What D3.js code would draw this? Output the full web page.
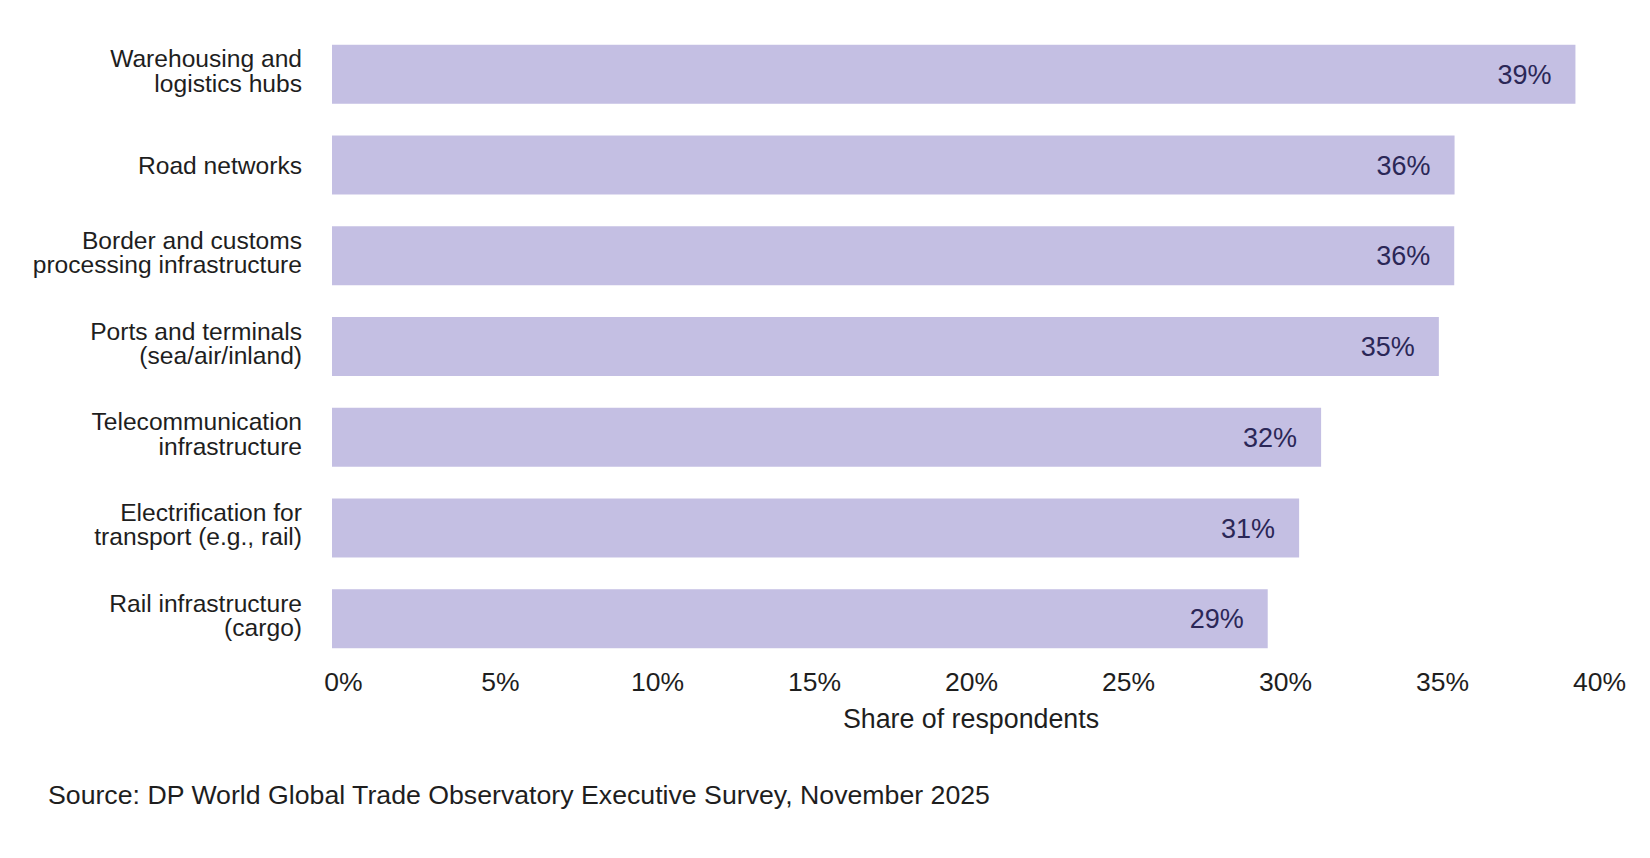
<!DOCTYPE html>
<html>
<head>
<meta charset="utf-8">
<script src="https://cdn.jsdelivr.net/npm/d3@7"></script>
<style>
  html, body { margin: 0; padding: 0; background: #ffffff; }
  svg { display: block; }
  text { font-family: "Liberation Sans", Arial, sans-serif; }
</style>
</head>
<body>
<svg id="chart" width="1650" height="858"></svg>
<script>
// ---- data ----
const categories = [
  ["Warehousing and", "logistics hubs"],
  ["Road networks"],
  ["Border and customs", "processing infrastructure"],
  ["Ports and terminals", "(sea/air/inland)"],
  ["Telecommunication", "infrastructure"],
  ["Electrification for", "transport (e.g., rail)"],
  ["Rail infrastructure", "(cargo)"]
];
const values = [39.6, 35.75, 35.74, 35.25, 31.5, 30.8, 29.8];
const valueLabels = ["39%", "36%", "36%", "35%", "32%", "31%", "29%"];
const tickValues = [0, 5, 10, 15, 20, 25, 30, 35, 40];
const axisTitle = "Share of respondents";
const sourceText = "Source: DP World Global Trade Observatory Executive Survey, November 2025";

// ---- layout ----
const svg = d3.select("#chart");
const x = d3.scaleLinear().domain([0, 40]).range([332, 1588]);
const y = d3.scaleBand().domain(d3.range(categories.length)).range([13, 680]).padding(0.35);

const barColor = "#c4bfe3";
const valueColor = "#2b2757";
const textColor = "#1e1e1e";

// bars
svg.append("g").selectAll("rect")
  .data(values)
  .join("rect")
  .attr("x", x(0))
  .attr("y", (d, i) => y(i))
  .attr("width", d => x(d) - x(0))
  .attr("height", y.bandwidth())
  .attr("fill", barColor);

// value labels
svg.append("g").selectAll("text")
  .data(values)
  .join("text")
  .attr("x", d => x(d) - 24)
  .attr("y", (d, i) => y(i) + y.bandwidth() / 2)
  .attr("dy", "0.36em")
  .attr("text-anchor", "end")
  .attr("font-size", 27)
  .attr("fill", valueColor)
  .text((d, i) => valueLabels[i]);

// category labels
const catG = svg.append("g");
categories.forEach((lines, i) => {
  const cy = y(i) + y.bandwidth() / 2;
  const t = catG.append("text")
    .attr("text-anchor", "end")
    .attr("font-size", 24.6)
    .attr("fill", textColor);
  if (lines.length === 1) {
    t.append("tspan").attr("x", 302).attr("y", cy + 8.5).text(lines[0]);
  } else {
    t.append("tspan").attr("x", 302).attr("y", cy - 7).text(lines[0]);
    t.append("tspan").attr("x", 302).attr("y", cy + 17.5).text(lines[1]);
  }
});

// x axis
const xAxis = d3.axisBottom(x)
  .tickValues(tickValues)
  .tickFormat(d => d + "%")
  .tickSize(0)
  .tickPadding(0);
const axG = svg.append("g")
  .attr("transform", "translate(11, 691)")
  .call(xAxis);
axG.select(".domain").remove();
axG.selectAll("text")
  .attr("y", 0)
  .attr("dy", 0)
  .attr("font-size", 26.5)
  .attr("font-family", "'Liberation Sans', Arial, sans-serif")
  .attr("fill", textColor);

// axis title
svg.append("text")
  .attr("x", (x(0) + x(40)) / 2 + 11)
  .attr("y", 728)
  .attr("text-anchor", "middle")
  .attr("font-size", 26.8)
  .attr("fill", textColor)
  .text(axisTitle);

// source
svg.append("text")
  .attr("x", 48)
  .attr("y", 804)
  .attr("font-size", 26.7)
  .attr("fill", textColor)
  .text(sourceText);
</script>
</body>
</html>
